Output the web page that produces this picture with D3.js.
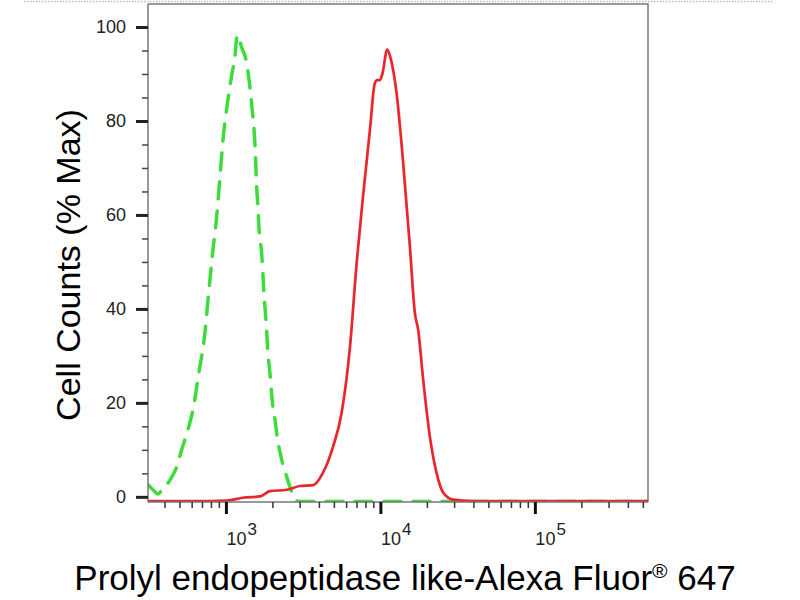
<!DOCTYPE html>
<html><head><meta charset="utf-8">
<script src="https://cdn.jsdelivr.net/npm/d3@7"></script>
<style>
body{margin:0;background:#fff}
svg{display:block}
text{font-family:"Liberation Sans",Arial,Helvetica,sans-serif}
</style>
</head><body>
<svg id="chart" width="800" height="600"></svg>
<script>
// ---- data ----
const xDomain = [313, 540000];
const yDomain = [-1.1, 104.9];
const yTicks = [0, 20, 40, 60, 80, 100];
const yMinorTicks = [5, 10, 15, 25, 30, 35, 45, 50, 55, 65, 70, 75, 85, 90, 95];
const xMajorTicks = [1e3, 1e4, 1e5];
const xTickExponents = ["3", "4", "5"];
const xMinorTicks = [400, 500, 600, 700, 800, 900,
  2000, 3000, 4000, 5000, 6000, 7000, 8000, 9000,
  20000, 30000, 40000, 50000, 60000, 70000, 80000, 90000,
  200000, 300000, 400000, 500000];

// isotype control (green dashed)
const greenX = [313, 340, 362, 385, 410, 440, 480, 517, 568, 611, 668, 731, 768, 820, 871, 915, 957,
  1030, 1093, 1143, 1183, 1264, 1362, 1430, 1473, 1541, 1581, 1612, 1636, 1703, 1762, 1834, 1870,
  1927, 2005, 2075, 2148, 2295, 2473, 2636, 2797, 3000, 540000];
const greenY = [2.6, 1.4, 0.6, 1.4, 2.4, 3.9, 6.4, 10.0, 14.3, 18.5, 26.4, 34.9, 42.4, 51.9, 59.6, 68.1, 75.9,
  84.5, 90.0, 93.5, 98.3, 95.7, 92.3, 87.2, 83.0, 75.0, 66.0, 61.7, 57.4, 51.9, 43.4, 35.5, 30.6,
  26.4, 19.8, 16.6, 12.8, 7.9, 4.3, 1.5, -0.6, -1.0, -1.0];

// Prolyl endopeptidase like (red solid)
const redX = [313, 787, 1010, 1288, 1660, 1927, 2472, 3013, 3673, 4243, 4930, 5612, 6354, 7020, 7711,
  8555, 9210, 9530, 9930, 10330, 11060, 11640, 12730, 14050, 15530, 16720, 17570, 18930, 20910,
  23100, 25480, 29440, 40000, 540000];
const redY = [-0.9, -0.9, -0.8, -0.2, 0.1, 1.2, 1.5, 2.3, 2.5, 5.1, 10.6, 17.9, 31.9, 49.8, 63.8,
  78.1, 88.1, 88.7, 88.7, 90.2, 95.2, 93.4, 85.9, 71.0, 53.2, 39.1, 35.5, 24.9, 12.8,
  5.1, 0.9, -0.6, -0.9, -0.9];

const yTitle = "Cell Counts (% Max)";
const xTitleMain = "Prolyl endopeptidase like-Alexa Fluor";
const xTitleSup = "\u00AE";
const xTitleEnd = " 647";

// ---- layout ----
const L = 148, R = 648, T = 4, B = 502;
const svg = d3.select("#chart");
const x = d3.scaleLog().domain(xDomain).range([L, R]);
const y = d3.scaleLinear().domain(yDomain).range([B, T]);

// top dotted rule
svg.append("line").attr("x1", 24).attr("x2", 774).attr("y1", 1.5).attr("y2", 1.5)
  .attr("stroke", "#bbb").attr("stroke-width", 1.5).attr("stroke-dasharray", "1.5,1.5");

// frame top + right
svg.append("path").attr("d", `M${L},${T}H${R}V${B}`)
  .attr("fill", "none").attr("stroke", "#7a7a7a").attr("stroke-width", 1.5);

// curves
const line = d3.line().x(d => x(d[0])).y(d => y(d[1])).curve(d3.curveMonotoneX);
svg.append("clipPath").attr("id", "clip").append("rect")
  .attr("x", L).attr("y", T - 2).attr("width", R - L).attr("height", B - T + 2);
svg.append("path").datum(greenX.map((v, i) => [v, greenY[i]]))
  .attr("clip-path", "url(#clip)")
  .attr("d", line).attr("fill", "none").attr("stroke", "#3ddc3a")
  .attr("stroke-width", 3.5).attr("stroke-dasharray", "17,12").attr("stroke-linecap", "round");
svg.append("path").datum(redX.map((v, i) => [v, redY[i]]))
  .attr("clip-path", "url(#clip)")
  .attr("d", line).attr("fill", "none").attr("stroke", "#e8262b")
  .attr("stroke-width", 2.7).attr("stroke-linejoin", "round");

// y axis
const gy = svg.append("g").attr("transform", `translate(${L},0)`)
  .call(d3.axisLeft(y).tickValues(yTicks).tickSize(12).tickSizeOuter(0).tickPadding(10));
gy.select(".domain").attr("stroke", "#777").attr("stroke-width", 1.5).attr("d", `M0,${T}V${B}`);
gy.selectAll(".tick line").attr("stroke", "#222").attr("stroke-width", 3);
gy.selectAll(".tick text").attr("font-size", 18).attr("fill", "#222")
  .attr("font-family", '"Liberation Sans",Arial,sans-serif');
const gy2 = svg.append("g").attr("transform", `translate(${L},0)`)
  .call(d3.axisLeft(y).tickValues(yMinorTicks).tickSize(6).tickSizeOuter(0).tickFormat(""));
gy2.select(".domain").remove();
gy2.selectAll(".tick line").attr("stroke", "#444").attr("stroke-width", 1.5);

// x axis
const gx2 = svg.append("g").attr("transform", `translate(0,${B})`)
  .call(d3.axisBottom(x).tickValues(xMinorTicks).tickSize(6).tickSizeOuter(0).tickFormat(""));
gx2.select(".domain").attr("stroke", "#777").attr("stroke-width", 1.5).attr("d", `M${L},0H${R}`);
gx2.selectAll(".tick line").attr("stroke", "#333").attr("stroke-width", 1.5);
const gx = svg.append("g").attr("transform", `translate(0,${B})`)
  .call(d3.axisBottom(x).tickValues(xMajorTicks).tickSize(12).tickSizeOuter(0).tickFormat(""));
gx.select(".domain").remove();
gx.selectAll(".tick line").attr("stroke", "#111").attr("stroke-width", 3);
gx.selectAll(".tick").each(function (d, i) {
  const t = d3.select(this).append("text").attr("fill", "#222").attr("text-anchor", "start")
    .attr("x", 0).attr("y", 43).attr("font-size", 18)
    .attr("font-family", '"Liberation Sans",Arial,sans-serif');
  t.append("tspan").text("10");
  t.append("tspan").attr("dy", -10).attr("dx", 1).attr("font-size", 17).text(xTickExponents[i]);
});

// titles
svg.append("text").attr("transform", "translate(80,265) rotate(-90)")
  .attr("text-anchor", "middle").attr("font-size", 34).attr("fill", "#000").text(yTitle);
const xt = svg.append("text").attr("x", 405).attr("y", 590).attr("text-anchor", "middle")
  .attr("font-size", 35).attr("fill", "#000");
xt.append("tspan").text(xTitleMain);
xt.append("tspan").attr("dy", -12).attr("font-size", 21).text(xTitleSup);
xt.append("tspan").attr("dy", 12).text(xTitleEnd);
</script>
</body></html>
